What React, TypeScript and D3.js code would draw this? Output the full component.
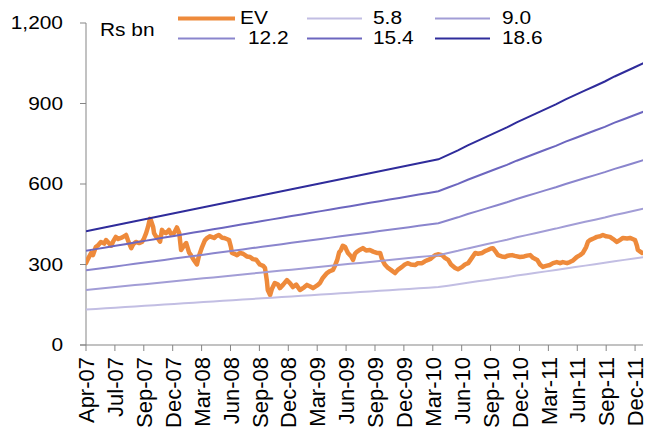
import React from 'react';
import * as d3 from 'd3';

// Trading-day axis: one labelled tick every 62 sessions
const tickLabels = [
  'Apr-07', 'Jul-07', 'Sep-07', 'Dec-07', 'Mar-08', 'Jun-08', 'Sep-08', 'Dec-08',
  'Mar-09', 'Jun-09', 'Sep-09', 'Dec-09', 'Mar-10', 'Jun-10', 'Sep-10', 'Dec-10',
  'Mar-11', 'Jun-11', 'Sep-11', 'Dec-11',
];
const DAYS_PER_TICK = 62;
const LAST_DAY = 1195;
const DAYS_PER_MONTH = 21;

const yTicks = [0, 300, 600, 900, 1200];

// EV/EBITDA band multiples
const multiples = [5.8, 9.0, 12.2, 15.4, 18.6];

// Forward EBITDA (Rs bn), monthly from Apr-07
const ebitdaByMonth = [
  22.8, 23.2, 23.6, 24.0, 24.4, 24.8, 25.2, 25.6, 26.0, 26.4,
  26.8, 27.2, 27.6, 28.0, 28.4, 28.8, 29.2, 29.6, 30.0, 30.4,
  30.8, 31.2, 31.6, 32.0, 32.4, 32.8, 33.2, 33.6, 34.0, 34.4,
  34.8, 35.2, 35.6, 36.0, 36.4, 36.8, 37.2, 38.1, 39.0, 40.0,
  40.9, 41.8, 42.7, 43.6, 44.6, 45.5, 46.4, 47.3, 48.2, 49.2,
  50.1, 51.0, 51.9, 52.8, 53.8, 54.7, 55.6, 56.5,
];

// Enterprise value (Rs bn): [trading day, value]
const evSeries: [number, number][] = [
  [0, 305], [4, 320], [11, 343], [15, 335], [21, 365], [26, 372], [32, 384], [39, 378],
  [43, 391], [49, 380], [54, 370], [58, 385], [64, 403], [69, 395], [75, 399], [82, 405],
  [86, 410], [90, 390], [97, 361], [101, 375], [107, 384], [114, 380], [120, 384], [124, 395],
  [129, 417], [133, 440], [137, 470], [139, 466], [144, 440], [146, 417], [150, 405], [152, 403],
  [159, 385], [163, 429], [167, 420], [172, 417], [178, 429], [182, 415], [189, 417], [195, 438],
  [200, 417], [204, 354], [210, 370], [215, 380], [221, 345], [225, 335], [232, 315], [238, 300],
  [242, 330], [249, 365], [255, 390], [260, 399], [266, 405], [275, 399], [279, 405], [285, 410],
  [292, 400], [296, 399], [302, 395], [307, 391], [311, 365], [313, 343], [318, 340], [324, 335],
  [330, 343], [337, 340], [345, 330], [352, 328], [358, 320], [365, 318], [373, 300], [380, 295],
  [384, 287], [388, 240], [390, 205], [395, 186], [399, 210], [405, 231], [412, 225], [416, 212],
  [423, 225], [431, 242], [438, 230], [444, 216], [451, 225], [459, 205], [468, 215], [474, 224],
  [481, 218], [487, 212], [496, 222], [502, 231], [508, 250], [517, 268], [523, 275], [530, 280],
  [534, 295], [539, 317], [543, 345], [547, 354], [551, 370], [556, 365], [560, 350], [562, 343],
  [569, 330], [573, 317], [577, 340], [581, 347], [588, 355], [594, 361], [601, 352], [609, 354],
  [616, 348], [624, 343], [631, 343], [635, 320], [641, 300], [648, 287], [654, 280], [663, 268],
  [669, 280], [678, 291], [684, 300], [691, 305], [697, 300], [706, 298], [712, 305], [721, 305],
  [727, 312], [734, 317], [740, 322], [749, 335], [755, 338], [764, 335], [770, 325], [777, 317],
  [783, 300], [792, 287], [798, 282], [807, 291], [813, 300], [820, 305], [826, 320], [835, 343],
  [841, 340], [850, 343], [856, 350], [862, 354], [869, 360], [873, 361], [880, 345], [884, 335],
  [892, 330], [899, 328], [905, 333], [914, 335], [920, 332], [931, 328], [940, 330], [946, 333],
  [953, 335], [959, 325], [968, 317], [974, 300], [980, 291], [987, 295], [995, 298], [1002, 305],
  [1010, 309], [1017, 305], [1023, 309], [1032, 305], [1038, 309], [1045, 315], [1053, 328], [1060, 335],
  [1066, 343], [1073, 365], [1077, 385], [1081, 391], [1090, 398], [1096, 403], [1103, 405], [1109, 410],
  [1116, 405], [1124, 403], [1131, 395], [1139, 384], [1146, 392], [1152, 399], [1161, 397], [1167, 399],
  [1174, 394], [1178, 391], [1182, 370], [1184, 354], [1189, 348], [1193, 343],
];

const EV_COLOR = '#ee8a3b';
const BAND_COLORS = ['#c2bee3', '#a29dd6', '#8a85cd', '#6c66bf', '#2f2c9b'];
const AXIS_COLOR = '#858585';
const FONT = '"Liberation Sans", Arial, sans-serif';
const FONT_SIZE = 18.5;
const X_LABEL_SIZE = 22;
const STRETCH = 1.13;

const W = 645;
const H = 430;
const plot = { left: 86, right: 643, top: 23, bottom: 345 };

export default function App() {
  const x = d3.scaleLinear().domain([0, LAST_DAY]).range([plot.left, plot.right]);
  const y = d3.scaleLinear().domain([0, 1200]).range([plot.bottom, plot.top]);
  const fmt = d3.format(',');

  const evLine = d3
    .line<[number, number]>()
    .x((d) => x(d[0]))
    .y((d) => y(d[1]));

  const bandLine = (m: number) =>
    d3
      .line<number>()
      .x((_, i) => x(i * DAYS_PER_MONTH))
      .y((e) => y(e * m))(ebitdaByMonth) as string;

  const xTickDays = tickLabels.map((_, i) => i * DAYS_PER_TICK);

  const legend = [
    { label: 'EV', color: EV_COLOR, width: 4, x1: 178, x2: 235, ly: 18.5, tx: 240 },
    { label: '5.8', color: BAND_COLORS[0], width: 2, x1: 307, x2: 362, ly: 18.5, tx: 373 },
    { label: '9.0', color: BAND_COLORS[1], width: 2, x1: 435, x2: 490, ly: 18.5, tx: 502 },
    { label: '12.2', color: BAND_COLORS[2], width: 2, x1: 178, x2: 235, ly: 38.5, tx: 248 },
    { label: '15.4', color: BAND_COLORS[3], width: 2, x1: 307, x2: 362, ly: 38.5, tx: 373 },
    { label: '18.6', color: BAND_COLORS[4], width: 2, x1: 435, x2: 490, ly: 38.5, tx: 502 },
  ];

  const textProps = {
    fontFamily: FONT,
    fontSize: FONT_SIZE,
    fill: '#000',
  };

  return (
    <svg
      width={W}
      height={H}
      viewBox={`0 0 ${W} ${H}`}
      style={{ position: 'absolute', left: 0, top: 0, background: '#fff' }}
    >
      <defs>
        <clipPath id="plot-area">
          <rect x={plot.left} y={0} width={plot.right - plot.left} height={plot.bottom} />
        </clipPath>
      </defs>

      {/* y axis */}
      <line x1={plot.left} x2={plot.left} y1={plot.top} y2={plot.bottom} stroke={AXIS_COLOR} strokeWidth={1} />
      {yTicks.map((v) => (
        <g key={v}>
          <line x1={plot.left - 6} x2={plot.left} y1={y(v)} y2={y(v)} stroke={AXIS_COLOR} strokeWidth={1} />
          <g transform={`translate(63, ${y(v)}) scale(${STRETCH}, 1)`}>
            <text {...textProps} textAnchor="end" dy="0.35em">
              {fmt(v)}
            </text>
          </g>
        </g>
      ))}

      {/* x axis */}
      <line x1={plot.left - 6} x2={plot.right} y1={plot.bottom} y2={plot.bottom} stroke={AXIS_COLOR} strokeWidth={1} />
      {xTickDays.map((d, i) => (
        <g key={tickLabels[i]}>
          <line x1={x(d)} x2={x(d)} y1={plot.bottom} y2={plot.bottom + 6} stroke={AXIS_COLOR} strokeWidth={1} />
          <g transform={`translate(${x(d) + 0.5}, ${plot.bottom + 12}) rotate(-90)`}>
            <text {...textProps} fontSize={X_LABEL_SIZE} textAnchor="end" dy="0.35em">
              {tickLabels[i]}
            </text>
          </g>
        </g>
      ))}

      {/* series */}
      <g clipPath="url(#plot-area)">
        <path
          d={evLine(evSeries) as string}
          fill="none"
          stroke={EV_COLOR}
          strokeWidth={4.5}
          strokeLinejoin="round"
          strokeLinecap="round"
        />
        {multiples.map((m, i) => (
          <path key={m} d={bandLine(m)} fill="none" stroke={BAND_COLORS[i]} strokeWidth={2} />
        ))}
      </g>

      {/* unit label */}
      <g transform={`translate(100, 30) scale(${STRETCH}, 1)`}>
        <text {...textProps} dy="0.35em">
          Rs bn
        </text>
      </g>

      {/* legend */}
      {legend.map((l) => (
        <g key={l.label}>
          <line x1={l.x1} x2={l.x2} y1={l.ly} y2={l.ly} stroke={l.color} strokeWidth={l.width} />
          <g transform={`translate(${l.tx}, ${l.ly - 1}) scale(${STRETCH}, 1)`}>
            <text {...textProps} dy="0.35em">
              {l.label}
            </text>
          </g>
        </g>
      ))}
    </svg>
  );
}
